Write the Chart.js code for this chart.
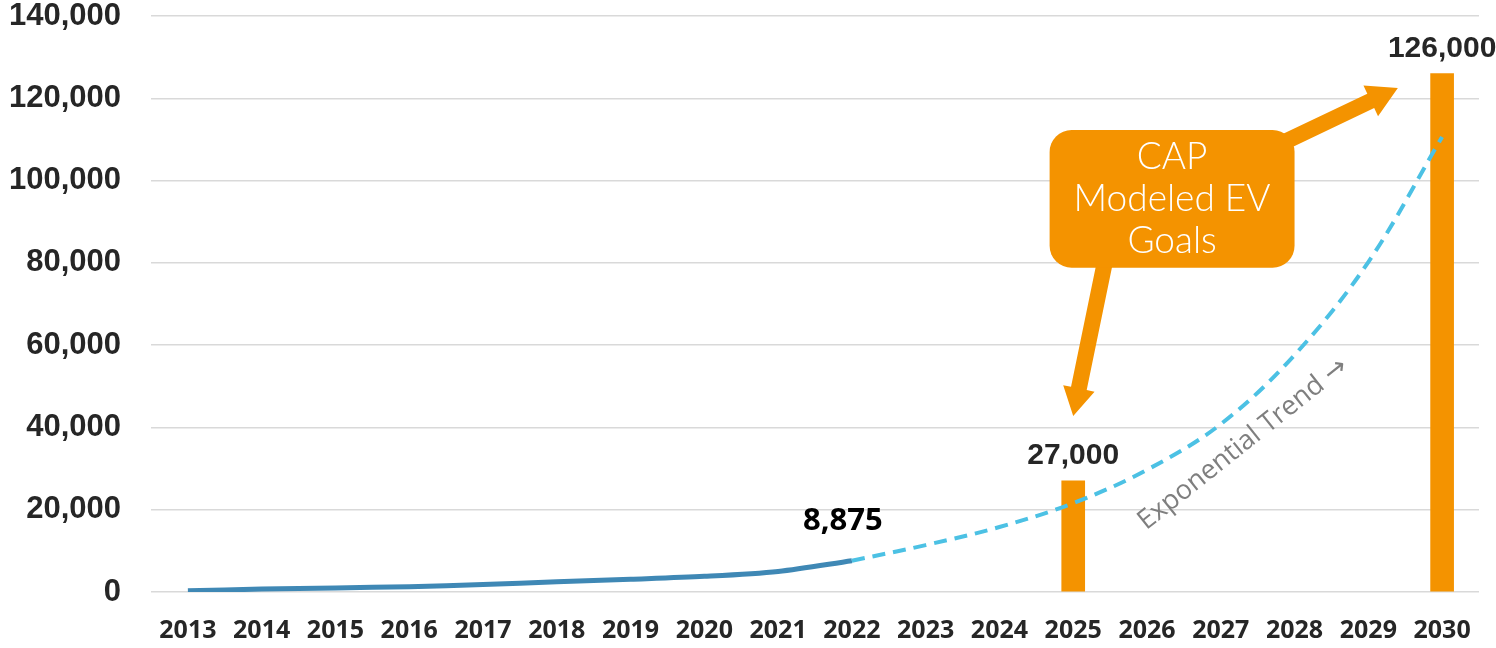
<!DOCTYPE html>
<html lang="en">

<head>
    <meta charset="UTF-8">
    <script src="https://cdn.jsdelivr.net/npm/chart.js@4.4.1/dist/chart.umd.min.js"></script>
    <style>
        html, body { margin: 0; padding: 0; background: #fff; }
        #wrap { width: 1496px; height: 648px; position: relative; }
    </style>
</head>

<body>
    <div id="wrap"><canvas id="ev-chart"></canvas></div>
</body>
<script>
    // data
    var years = ['2013', '2014', '2015', '2016', '2017', '2018', '2019', '2020', '2021',
        '2022', '2023', '2024', '2025', '2026', '2027', '2028', '2029', '2030'];
    var actualEVs = [300, 700, 1000, 1300, 1800, 2500, 3100, 3800, 5000, 7600,
        null, null, null, null, null, null, null, null];
    var trendEVs = [null, null, null, null, null, null, null, null, null, 7600,
        11400, 15800, 21600, 29700, 40800, 57600, 80200, 110600];
    var goalEVs = [null, null, null, null, null, null, null, null, null, null,
        null, null, 27000, null, null, null, null, 126000];
    var yTickValues = [0, 20000, 40000, 60000, 80000, 100000, 120000, 140000];
    var lastActualLabel = '8,875';
    var calloutLines = ['CAP', 'Modeled EV', 'Goals'];
    var trendText = 'Exponential Trend \u2192';

    var orange = '#F49300';

    function arrow(ctx, x0, y0, x1, y1, shaftW, headW, headL) {
        var dx = x1 - x0, dy = y1 - y0;
        var len = Math.sqrt(dx * dx + dy * dy);
        var ux = dx / len, uy = dy / len;
        var nx = -uy, ny = ux;
        var bx = x1 - ux * headL, by = y1 - uy * headL;
        ctx.beginPath();
        ctx.moveTo(x0 + nx * shaftW / 2, y0 + ny * shaftW / 2);
        ctx.lineTo(bx + nx * shaftW / 2, by + ny * shaftW / 2);
        ctx.lineTo(bx + nx * headW / 2, by + ny * headW / 2);
        ctx.lineTo(x1, y1);
        ctx.lineTo(bx - nx * headW / 2, by - ny * headW / 2);
        ctx.lineTo(bx - nx * shaftW / 2, by - ny * shaftW / 2);
        ctx.lineTo(x0 - nx * shaftW / 2, y0 - ny * shaftW / 2);
        ctx.closePath();
        ctx.fill();
    }

    var notes = {
        id: 'notes',
        afterDatasetsDraw: function (chart) {
            var ctx = chart.ctx;
            var xs = chart.scales.x, ys = chart.scales.y;
            var px = function (i) { return xs.getPixelForValue(i); };
            var py = function (v) { return ys.getPixelForValue(v); };
            ctx.save();

            // value labels over the goal bars
            var barMeta = chart.getDatasetMeta(2);
            ctx.fillStyle = '#262626';
            ctx.font = 'bold 30px "Liberation Sans", Arial, sans-serif';
            ctx.textAlign = 'center';
            ctx.textBaseline = 'middle';
            goalEVs.forEach(function (v, i) {
                if (v === null) return;
                var b = barMeta.data[i];
                ctx.fillText(v.toLocaleString('en-US'), b.x, b.y - 25);
            });

            // last actual value
            var lineMeta = chart.getDatasetMeta(0);
            var last = lineMeta.data[9];
            ctx.fillStyle = '#000';
            ctx.font = 'bold 31px "Open Sans", "Noto Sans", sans-serif';
            ctx.fillText(lastActualLabel, last.x - 9, last.y - 40);

            // arrows from the callout
            ctx.fillStyle = orange;
            arrow(ctx, px(12.45), py(82000), px(12), py(42800), 16, 32, 28);
            arrow(ctx, px(14.7), py(108000), px(16.4), py(122500), 16, 34, 30);

            // callout box
            var bl = px(11.68), br = px(15.0), bt = py(112300), bb = py(78800);
            ctx.beginPath();
            ctx.roundRect(bl, bt, br - bl, bb - bt, 22);
            ctx.fill();
            ctx.fillStyle = '#fff';
            ctx.font = '300 37px Lato, "Open Sans", sans-serif';
            var cx = (bl + br) / 2;
            var cy = (bt + bb) / 2;
            calloutLines.forEach(function (t, k) {
                ctx.fillText(t, cx, cy + (k - 1) * 42);
            });

            // rotated trend note
            ctx.translate(px(14.3), py(36000));
            ctx.rotate(-38.5 * Math.PI / 180);
            ctx.fillStyle = '#7f7f7f';
            ctx.font = '27px "Open Sans", "DejaVu Sans", sans-serif';
            ctx.fillText(trendText, 0, 0);
            ctx.restore();
        }
    };

    var ctx = document.getElementById('ev-chart').getContext('2d');
    var evChart = new Chart(ctx, {
        type: 'bar',
        data: {
            labels: years,
            datasets: [
                {
                    type: 'line',
                    label: 'EVs',
                    data: actualEVs,
                    borderColor: '#3F88B5',
                    borderWidth: 5,
                    pointRadius: 0,
                    tension: 0.3,
                    order: 1
                },
                {
                    type: 'line',
                    label: 'Exponential Trend',
                    data: trendEVs,
                    borderColor: '#4CC1E4',
                    borderWidth: 4,
                    borderDash: [13, 8],
                    pointRadius: 0,
                    tension: 0.35,
                    order: 0
                },
                {
                    label: 'CAP Modeled EV Goals',
                    data: goalEVs,
                    backgroundColor: orange,
                    barThickness: 23,
                    order: 2
                }
            ]
        },
        options: {
            responsive: true,
            maintainAspectRatio: false,
            animation: false,
            layout: { padding: { top: 0, right: 17, left: 0, bottom: 0 } },
            plugins: {
                legend: { display: false },
                tooltip: { enabled: false }
            },
            scales: {
                x: {
                    grid: { display: false, drawTicks: false },
                    border: { display: false },
                    ticks: {
                        color: '#262626',
                        padding: 24,
                        maxRotation: 0,
                        autoSkip: false,
                        font: { family: '"Noto Sans", sans-serif', size: 25, weight: 'bold' }
                    },
                    afterFit: function (s) { s.height = 56; }
                },
                y: {
                    min: 0,
                    max: 140000,
                    afterBuildTicks: function (s) {
                        s.ticks = yTickValues.map(function (v) { return { value: v }; });
                    },
                    grid: { color: '#d9d9d9', lineWidth: 1.5, drawTicks: false },
                    border: { display: false },
                    ticks: {
                        color: '#262626',
                        padding: 30,
                        font: { family: '"Liberation Sans", Arial, sans-serif', size: 31, weight: 'bold' },
                        callback: function (v) { return v.toLocaleString('en-US'); }
                    },
                    afterFit: function (s) {
                        s.width = 151;
                        s.paddingTop = 16;
                        s.paddingBottom = 0;
                    }
                }
            }
        },
        plugins: [notes]
    });
</script>

</html>
